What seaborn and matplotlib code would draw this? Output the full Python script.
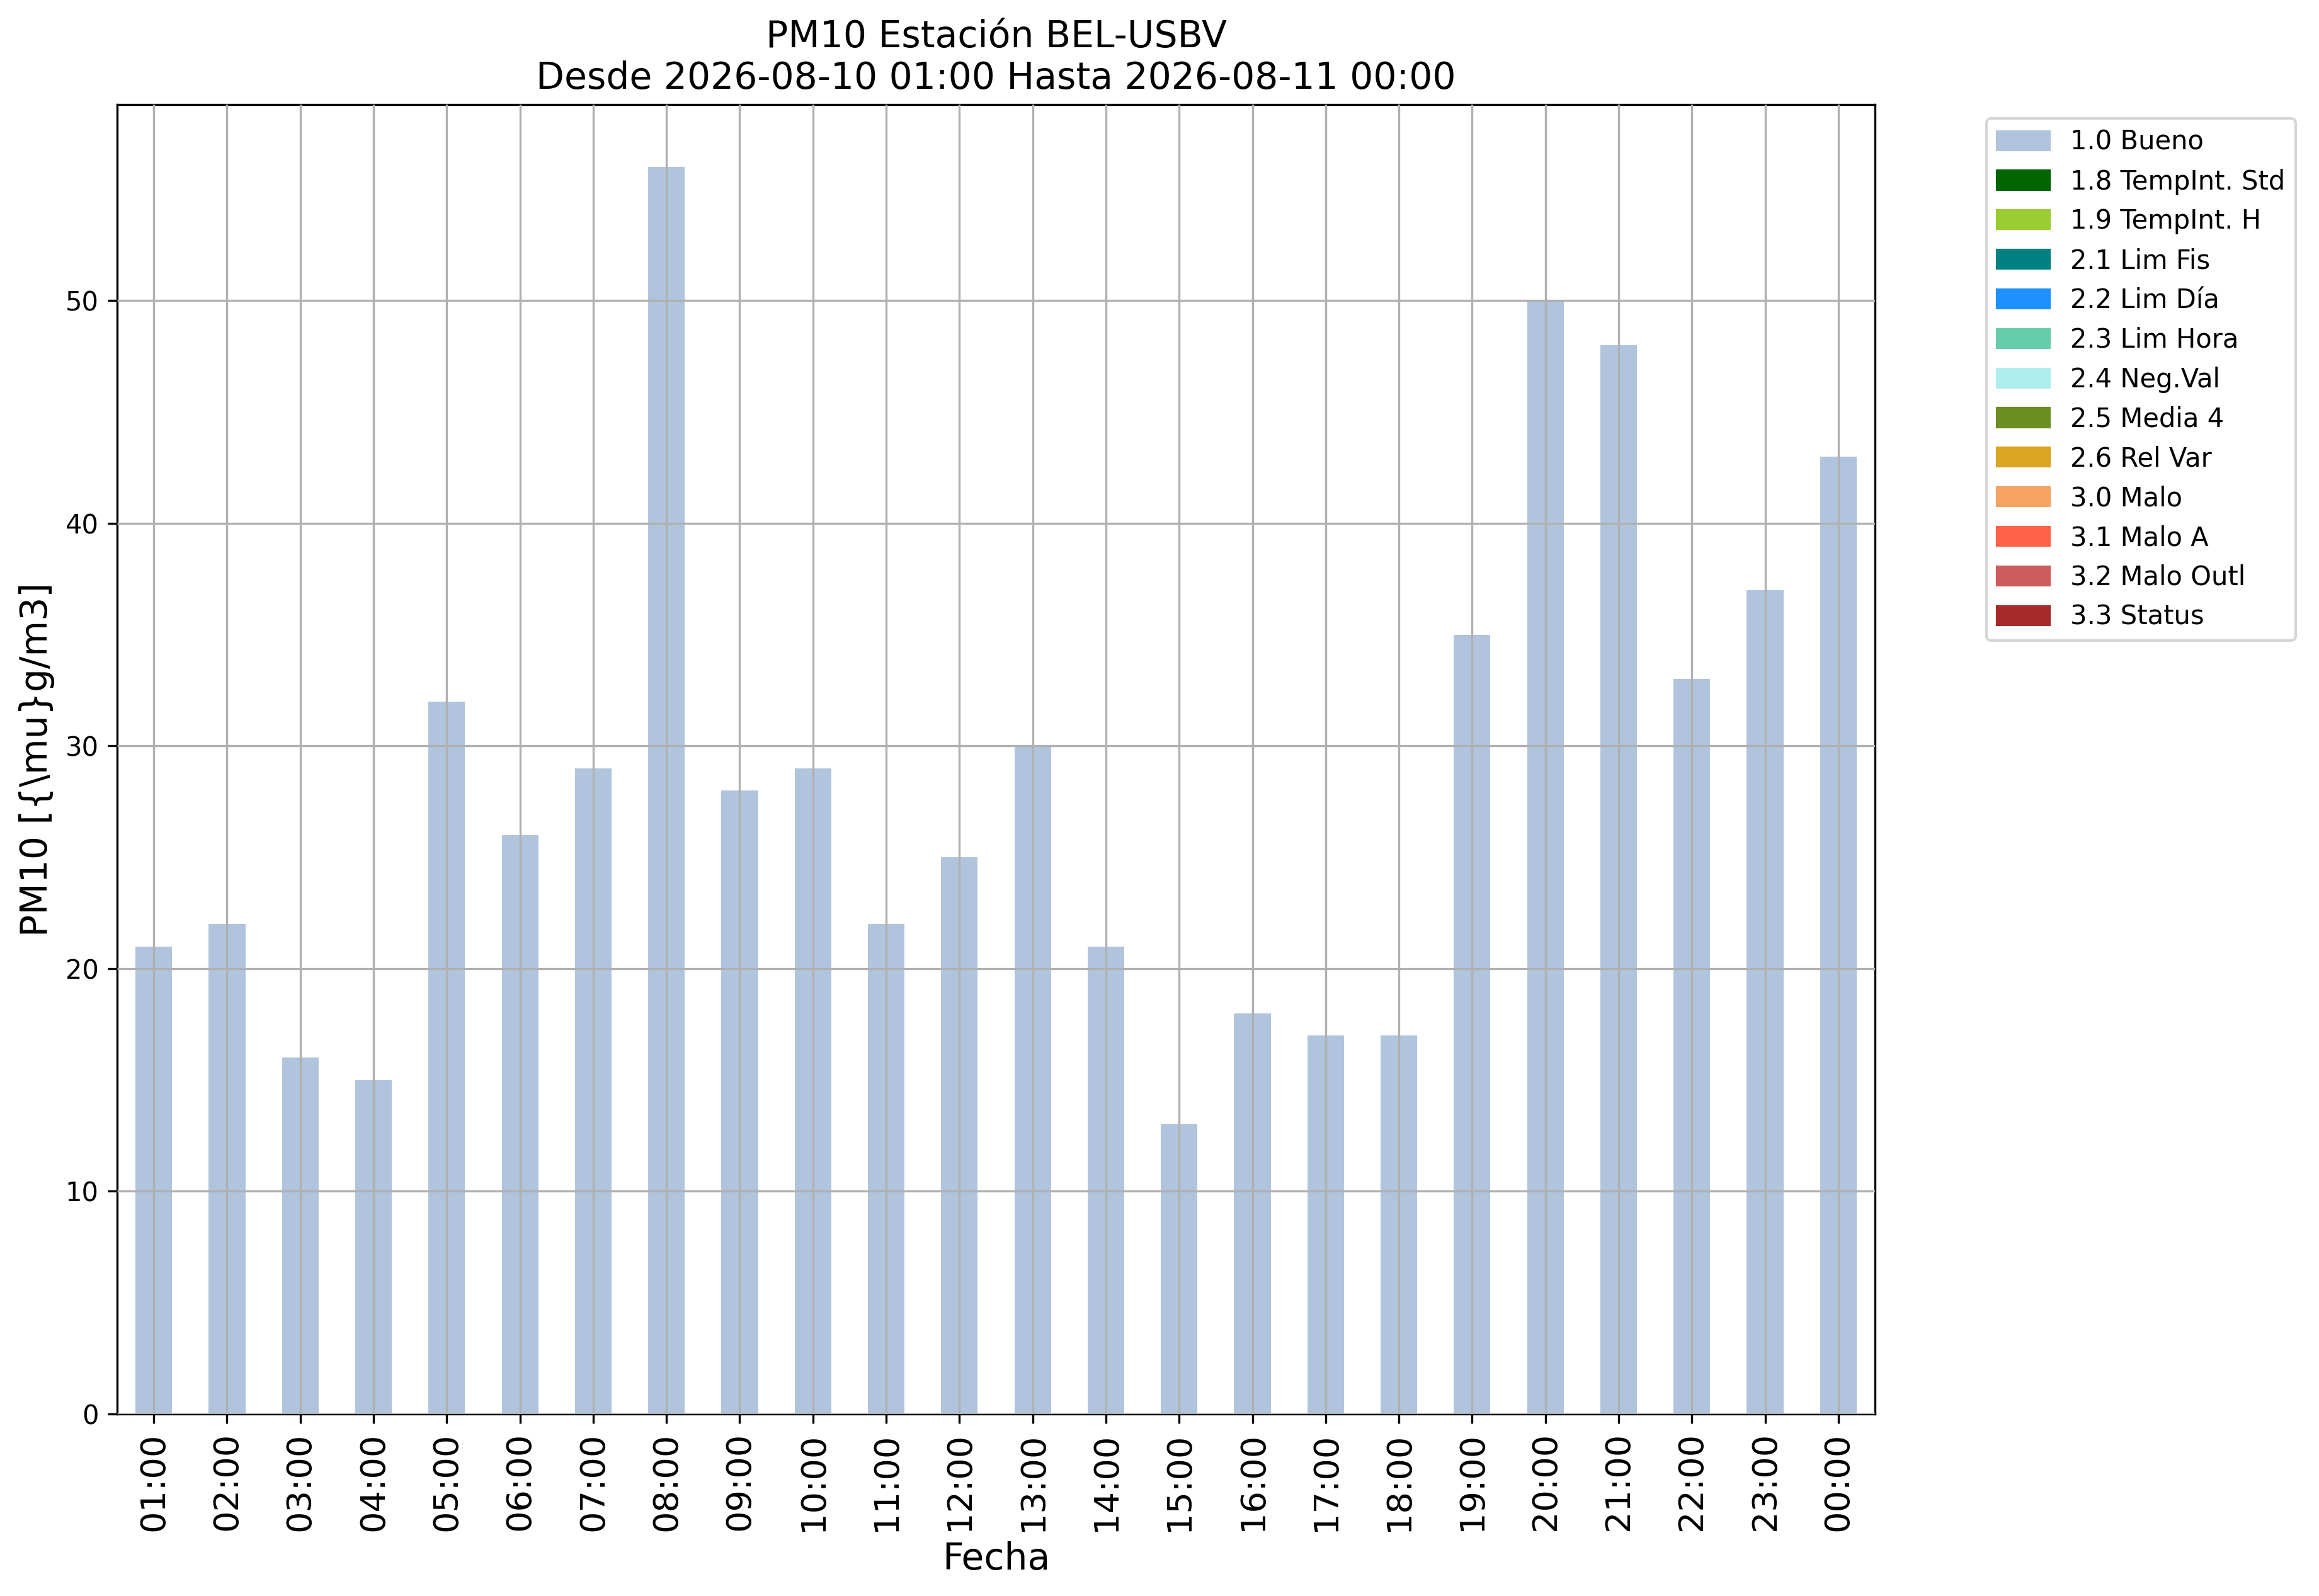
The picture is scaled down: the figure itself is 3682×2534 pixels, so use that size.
import pandas as pd
import seaborn as sns
import matplotlib.pyplot as plt
from matplotlib.patches import Patch

# datos horarios PM10
horas = ["01:00", "02:00", "03:00", "04:00", "05:00", "06:00", "07:00", "08:00",
         "09:00", "10:00", "11:00", "12:00", "13:00", "14:00", "15:00", "16:00",
         "17:00", "18:00", "19:00", "20:00", "21:00", "22:00", "23:00", "00:00"]
pm10 = [21, 22, 16, 15, 32, 26, 29, 56, 28, 29, 22, 25,
        30, 21, 13, 18, 17, 17, 35, 50, 48, 33, 37, 43]

# banderas de calidad
flags = ["1.0 Bueno", "1.8 TempInt. Std", "1.9 TempInt. H", "2.1 Lim Fis", "2.2 Lim Día",
         "2.3 Lim Hora", "2.4 Neg.Val", "2.5 Media 4", "2.6 Rel Var", "3.0 Malo",
         "3.1 Malo A", "3.2 Malo Outl", "3.3 Status"]
flag_colors = ["lightsteelblue", "darkgreen", "yellowgreen", "teal", "dodgerblue",
               "mediumaquamarine", "paleturquoise", "olivedrab", "goldenrod", "sandybrown",
               "tomato", "indianred", "brown"]

data = pd.DataFrame({"Fecha": horas, "PM10": pm10})

fig = plt.figure(figsize=(3682 / 300, 2534 / 300), dpi=300)
ax = fig.add_axes([186 / 3682, 1 - 2245 / 2534, (2977 - 186) / 3682, (2245 - 166) / 2534])

sns.barplot(data=data, x="Fecha", y="PM10", order=horas, color=flag_colors[0],
            saturation=1, width=0.5, ax=ax)
ax.set_xlim(-0.5, len(horas) - 0.5)
ax.set_ylim(0, max(pm10) * 1.05)

ax.grid(True, color="#b0b0b0", linewidth=0.8)
ax.set_axisbelow(False)
ax.tick_params(axis="x", labelsize=13, rotation=90)
ax.tick_params(axis="y", labelsize=10)

ax.set_title("PM10 Estación BEL-USBV\nDesde 2026-08-10 01:00 Hasta 2026-08-11 00:00", fontsize=14)
ax.set_xlabel("Fecha", fontsize=14)
ax.set_ylabel(r"PM10 [{\mu}g/m3]", fontsize=14)

handles = [Patch(color=c, label=f) for f, c in zip(flags, flag_colors)]
ax.legend(handles=handles, loc="upper left", bbox_to_anchor=(3154 / 3682, 1 - 188 / 2534),
          bbox_transform=fig.transFigure, borderaxespad=0, fontsize=10)

fig.savefig("out.png", dpi=300)
